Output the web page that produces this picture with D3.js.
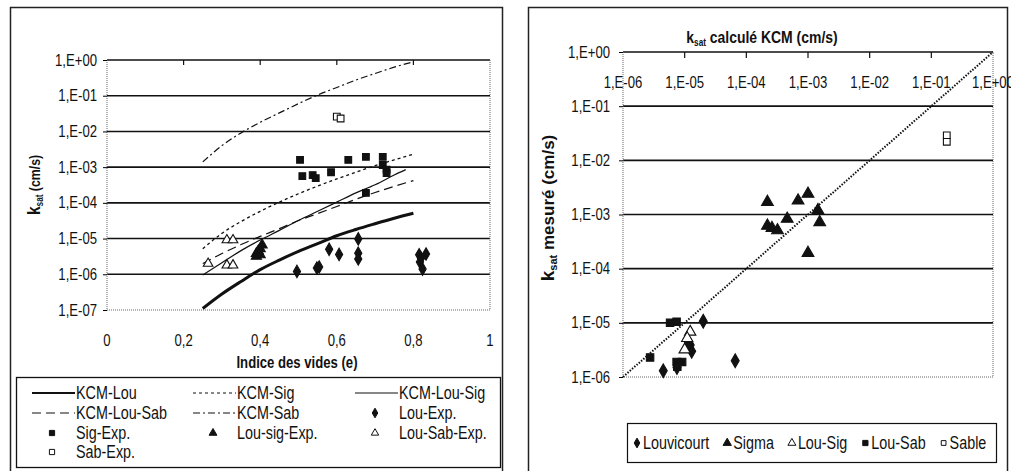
<!DOCTYPE html>
<html>
<head>
<meta charset="utf-8">
<script src="https://cdn.jsdelivr.net/npm/d3@7"></script>
<style>
body{margin:0;background:#fff;}
svg{display:block;font-family:"Liberation Sans",Arial,sans-serif;}
</style>
</head>
<body>
<div id="chart-area"></div>
<script>
// ---- data ----
// left chart : void ratio e vs ksat (cm/s)
var eGrid = [0.25,0.3,0.35,0.4,0.45,0.5,0.55,0.6,0.65,0.7,0.75,0.8];
var eLouSig = [0.25,0.3,0.35,0.4,0.45,0.5,0.55,0.6,0.65,0.7,0.75,0.78];
var kcmLou = [1.1e-7,2.8e-7,6.3e-7,1.35e-6,2.5e-6,4.4e-6,7.2e-6,1.2e-5,1.8e-5,2.6e-5,3.7e-5,5.1e-5];
var kcmSig = [5.2e-6,1.4e-5,3.0e-5,5.8e-5,1.05e-4,1.8e-4,2.95e-4,4.7e-4,7.2e-4,1.1e-3,1.6e-3,2.3e-3];
var kcmLouSig = [9.5e-7,2.1e-6,4.6e-6,9.1e-6,1.7e-5,3.2e-5,5.8e-5,1.05e-4,1.9e-4,3.2e-4,6.0e-4,8.5e-4];
var kcmLouSab = [2.0e-6,3.8e-6,6.8e-6,1.15e-5,1.9e-5,3.2e-5,5.0e-5,7.9e-5,1.26e-4,1.95e-4,2.9e-4,4.2e-4];
var kcmSab = [1.4e-3,4.0e-3,9.1e-3,1.8e-2,3.3e-2,6.0e-2,1.05e-1,1.7e-1,2.75e-1,4.2e-1,6.3e-1,8.9e-1];

var louExpE = [0.496,0.548,0.554,0.58,0.606,0.656,0.656,0.656,0.815,0.833,0.817,0.824,0.82];
var louExpK = [1.2e-6,1.5e-6,1.6e-6,5.0e-6,3.6e-6,9.8e-6,3.9e-6,2.7e-6,3.5e-6,3.7e-6,2.2e-6,1.4e-6,2.8e-6];
var sigExpE = [0.504,0.51,0.537,0.545,0.585,0.63,0.676,0.72,0.72,0.73,0.73,0.676];
var sigExpK = [1.6e-3,5.6e-4,6.0e-4,4.9e-4,7.2e-4,1.6e-3,1.95e-3,1.95e-3,1.15e-3,8.5e-4,6.8e-4,1.9e-4];
var louSigExpE = [0.39,0.39,0.395,0.40,0.40,0.405];
var louSigExpK = [3.2e-6,3.8e-6,4.5e-6,5.2e-6,3.5e-6,6.6e-6];
var louSabExpE = [0.264,0.313,0.329,0.313,0.329];
var louSabExpK = [2.0e-6,9.1e-6,9.1e-6,1.8e-6,1.8e-6];
var sabExpE = [0.60,0.61];
var sabExpK = [2.6e-2,2.3e-2];

var leftYTicks = [1e0,1e-1,1e-2,1e-3,1e-4,1e-5,1e-6,1e-7];
var leftYLabels = ['1,E+00','1,E-01','1,E-02','1,E-03','1,E-04','1,E-05','1,E-06','1,E-07'];
var leftXTicks = [0,0.2,0.4,0.6,0.8,1];
var leftXLabels = ['0','0,2','0,4','0,6','0,8','1'];

// right chart : calculated vs measured ksat
var louvCalc = [4.5e-6,2.0e-5,6.6e-5,7.5e-6,1.1e-5,1.23e-5,1.3e-5];
var louvMes  = [1.3e-6,1.07e-5,2.0e-6,1.5e-6,4.8e-6,3.9e-6,3.0e-6];
var sigmaCalc = [2.2e-4,2.2e-4,2.6e-4,3.2e-4,4.6e-4,6.9e-4,1.0e-3,1.0e-3,1.45e-3,1.55e-3];
var sigmaMes  = [1.7e-3,6.2e-4,5.6e-4,5.1e-4,8.3e-4,1.8e-3,2.4e-3,1.95e-4,1.2e-3,7.2e-4];
var louSigCalc = [1.23e-5,1.1e-5,1.0e-5];
var louSigMes  = [6.8e-6,5.2e-6,3.2e-6];
var louSabCalc = [2.75e-6,5.8e-6,7.4e-6,7.4e-6,9.1e-6,7.6e-6];
var louSabMes  = [2.3e-6,1.0e-5,1.05e-5,1.9e-6,1.9e-6,1.55e-6];
var sableCalc = [0.178,0.178];
var sableMes  = [2.9e-2,2.2e-2];

var rightTicks = [1e0,1e-1,1e-2,1e-3,1e-4,1e-5,1e-6];
var rightLabels = ['1,E+00','1,E-01','1,E-02','1,E-03','1,E-04','1,E-05','1,E-06'];

// ---- svg ----
var svgWidth = 1011, svgHeight = 471;
var svg = d3.select('#chart-area').append('svg')
  .attr('width',svgWidth).attr('height',svgHeight);

// squeeze a text (or tspan) horizontally so it looks like Arial Narrow
function narrow(node){
  var w = node.getComputedTextLength();
  d3.select(node).attr('textLength',w*0.82).attr('lengthAdjust','spacingAndGlyphs');
  return w*0.82;
}

// outer frames
svg.append('rect').attr('x',10.5).attr('y',7.5).attr('width',492).attr('height',470)
  .attr('fill','none').attr('stroke','#222').attr('stroke-width',1.5);
svg.append('rect').attr('x',528.5).attr('y',7.5).attr('width',479).attr('height',470)
  .attr('fill','none').attr('stroke','#222').attr('stroke-width',1.5);

function sym(type,size){ return d3.symbol().type(type).size(size)(); }

// =============== LEFT ===============
var xL = d3.scaleLinear().domain([0,1]).range([107,490]);
var yL = d3.scaleLog().domain([1e-7,1]).range([310,60]);

var gl = svg.append('g');

// gridlines
gl.selectAll('.grid').data(leftYTicks.slice(0,7)).enter().append('line')
  .attr('x1',xL(0)).attr('x2',xL(1))
  .attr('y1',d=>yL(d)).attr('y2',d=>yL(d))
  .attr('stroke','#111').attr('stroke-width',1.6);
// plot borders (dotted)
gl.append('path')
  .attr('d','M'+xL(0)+','+yL(1)+'V'+yL(1e-7)+'H'+xL(1)+'V'+yL(1))
  .attr('fill','none').attr('stroke','#666').attr('stroke-width',1).attr('stroke-dasharray','1,1');

// y axis
var yAxisL = d3.axisLeft(yL).tickValues(leftYTicks)
  .tickFormat((d,i)=>leftYLabels[i]).tickSize(4).tickPadding(6);
gl.append('g').attr('class','ax').attr('transform','translate('+xL(0)+',0)').call(yAxisL)
  .call(g=>g.select('.domain').remove())
  .selectAll('text').attr('font-size',16).attr('font-family','Liberation Sans, Arial, sans-serif').attr('fill','#111');

// top ticks
gl.selectAll('.xt').data(leftXTicks.slice(1,5)).enter().append('line')
  .attr('x1',d=>xL(d)).attr('x2',d=>xL(d)).attr('y1',yL(1)).attr('y2',yL(1)+5)
  .attr('stroke','#111').attr('stroke-width',1.2);
// x labels
gl.selectAll('.xl').data(leftXTicks).enter().append('text').attr('class','nt')
  .attr('x',d=>xL(d)).attr('y',346).attr('text-anchor','middle')
  .attr('font-size',16).attr('fill','#111').text((d,i)=>leftXLabels[i]);

// axis titles
gl.append('text').attr('class','nt').attr('x',297).attr('y',368).attr('text-anchor','middle')
  .attr('font-size',16).attr('font-weight','bold').attr('fill','#111')
  .text('Indice des vides (e)');
var ytl = gl.append('text').attr('class','sq').attr('transform','translate(40,185) rotate(-90)')
  .attr('text-anchor','middle').attr('font-weight','bold').attr('fill','#111');
ytl.append('tspan').attr('font-size',19).text('k');
ytl.append('tspan').attr('font-size',10).attr('dy',3).text('sat');
ytl.append('tspan').attr('font-size',15).attr('dy',-3).text(' (cm/s)');

// curves
var curves = [
  {name:'KCM-Lou', e:eGrid, k:kcmLou, w:3, dash:null},
  {name:'KCM-Sig', e:eGrid, k:kcmSig, w:1.3, dash:'3,3'},
  {name:'KCM-Lou-Sig', e:eLouSig, k:kcmLouSig, w:1.2, dash:null},
  {name:'KCM-Lou-Sab', e:eGrid, k:kcmLouSab, w:1.2, dash:'9,5'},
  {name:'KCM-Sab', e:eGrid, k:kcmSab, w:1.2, dash:'7,3,2,3'}
];
var lineGen = d3.line().curve(d3.curveMonotoneX).x(d=>xL(d[0])).y(d=>yL(d[1]));
curves.forEach(c=>{
  gl.append('path').datum(c.e.map((e,i)=>[e,c.k[i]]))
    .attr('d',lineGen).attr('fill','none').attr('stroke','#111')
    .attr('stroke-width',c.w).attr('stroke-dasharray',c.dash);
});

// scatter
var scatL = [
  {e:louExpE, k:louExpK, t:d3.symbolDiamond, s:45, fill:'#111'},
  {e:sigExpE, k:sigExpK, t:d3.symbolSquare, s:45, fill:'#111'},
  {e:louSigExpE, k:louSigExpK, t:d3.symbolTriangle, s:45, fill:'#111'},
  {e:louSabExpE, k:louSabExpK, t:d3.symbolTriangle, s:40, fill:'#fff'},
  {e:sabExpE, k:sabExpK, t:d3.symbolSquare, s:45, fill:'#fff'}
];
scatL.forEach(sr=>{
  gl.selectAll(null).data(sr.e.map((e,i)=>[e,sr.k[i]])).enter().append('path')
    .attr('d',sym(sr.t,sr.s))
    .attr('transform',d=>'translate('+xL(d[0])+','+yL(d[1])+')')
    .attr('fill',sr.fill).attr('stroke','#111').attr('stroke-width',1.1);
});

// left legend
gl.append('rect').attr('x',16.5).attr('y',377.5).attr('width',484).attr('height',90)
  .attr('fill','#fff').attr('stroke','#111').attr('stroke-width',1.3);
var legL = [
  {n:'KCM-Lou', line:curves[0]}, {n:'KCM-Sig', line:curves[1]}, {n:'KCM-Lou-Sig', line:curves[2]},
  {n:'KCM-Lou-Sab', line:curves[3]}, {n:'KCM-Sab', line:curves[4]}, {n:'Lou-Exp.', sc:scatL[0]},
  {n:'Sig-Exp.', sc:scatL[1]}, {n:'Lou-sig-Exp.', sc:scatL[2]}, {n:'Lou-Sab-Exp.', sc:scatL[3]},
  {n:'Sab-Exp.', sc:scatL[4]}
];
var colX = [32,193,355], rowY = [393,413,433,452];
legL.forEach((d,i)=>{
  var cx = colX[i%3], cy = rowY[Math.floor(i/3)];
  if(d.line){
    gl.append('line').attr('x1',cx).attr('x2',cx+43).attr('y1',cy).attr('y2',cy)
      .attr('stroke','#111').attr('stroke-width',d.line.w===3?2:1.2)
      .attr('stroke-dasharray',d.line.dash);
  } else {
    gl.append('path').attr('d',sym(d.sc.t,d.sc.s*0.6))
      .attr('transform','translate('+(cx+20)+','+cy+')')
      .attr('fill',d.sc.fill).attr('stroke','#111').attr('stroke-width',1);
  }
  gl.append('text').attr('class','nt').attr('x',cx+44).attr('y',cy+6).attr('font-size',17.5)
    .attr('fill','#111').text(d.n);
});

// =============== RIGHT ===============
var xR = d3.scaleLog().domain([1e-6,1]).range([623,993]);
var yR = d3.scaleLog().domain([1e-6,1]).range([377,52]);
var gr = svg.append('g');

gr.selectAll(null).data(rightTicks.slice(0,6)).enter().append('line')
  .attr('x1',xR(1e-6)).attr('x2',xR(1))
  .attr('y1',d=>yR(d)).attr('y2',d=>yR(d))
  .attr('stroke','#111').attr('stroke-width',1.6);
gr.append('path')
  .attr('d','M'+xR(1e-6)+','+yR(1)+'V'+yR(1e-6)+'H'+xR(1)+'V'+yR(1))
  .attr('fill','none').attr('stroke','#666').attr('stroke-width',1).attr('stroke-dasharray','1,1');

var yAxisR = d3.axisLeft(yR).tickValues(rightTicks)
  .tickFormat((d,i)=>rightLabels[i]).tickSize(4).tickPadding(9);
gr.append('g').attr('class','ax').attr('transform','translate('+xR(1e-6)+',0)').call(yAxisR)
  .call(g=>g.select('.domain').remove())
  .selectAll('text').attr('font-size',16).attr('font-family','Liberation Sans, Arial, sans-serif').attr('fill','#111');

// top x axis ticks + labels
gr.selectAll(null).data(rightTicks.slice(1,6)).enter().append('line')
  .attr('x1',d=>xR(d)).attr('x2',d=>xR(d)).attr('y1',yR(1)).attr('y2',yR(1)+6)
  .attr('stroke','#111').attr('stroke-width',1.2);
gr.selectAll(null).data(rightTicks).enter().append('text').attr('class','nt')
  .attr('x',d=>xR(d)).attr('y',88).attr('text-anchor','middle')
  .attr('font-size',16).attr('fill','#111').text((d,i)=>rightLabels[i]);

// titles
var tt = gr.append('text').attr('class','sq').attr('x',762).attr('y',43).attr('text-anchor','middle')
  .attr('font-weight','bold').attr('fill','#111');
tt.append('tspan').attr('font-size',17).text('k');
tt.append('tspan').attr('font-size',10).attr('dy',3).text('sat');
tt.append('tspan').attr('font-size',17).attr('dy',-3).text(' calculé KCM (cm/s)');

// measured axis title: wider in the picture, so not squeezed
var ytr = gr.append('text').attr('transform','translate(554,208) rotate(-90)')
  .attr('text-anchor','middle').attr('font-weight','bold').attr('fill','#111');
ytr.append('tspan').attr('font-size',19).text('k');
ytr.append('tspan').attr('font-size',11).attr('dy',3).text('sat');
ytr.append('tspan').attr('font-size',17).attr('dy',-3).text('   mesuré (cm/s)');

// 1:1 line
gr.append('line').attr('x1',xR(1e-6)).attr('y1',yR(1e-6)).attr('x2',xR(1)).attr('y2',yR(1))
  .attr('stroke','#111').attr('stroke-width',2).attr('stroke-dasharray','1.5,1.5');

var scatR = [
  {n:'Louvicourt', x:louvCalc, y:louvMes, t:d3.symbolDiamond, s:55, fill:'#111'},
  {n:'Sigma', x:sigmaCalc, y:sigmaMes, t:d3.symbolTriangle, s:60, fill:'#111'},
  {n:'Lou-Sig', x:louSigCalc, y:louSigMes, t:d3.symbolTriangle, s:55, fill:'#fff'},
  {n:'Lou-Sab', x:louSabCalc, y:louSabMes, t:d3.symbolSquare, s:55, fill:'#111'},
  {n:'Sable', x:sableCalc, y:sableMes, t:d3.symbolSquare, s:45, fill:'#fff'}
];
scatR.forEach(sr=>{
  gr.selectAll(null).data(sr.x.map((x,i)=>[x,sr.y[i]])).enter().append('path')
    .attr('d',sym(sr.t,sr.s))
    .attr('transform',d=>'translate('+xR(d[0])+','+yR(d[1])+')')
    .attr('fill',sr.fill).attr('stroke','#111').attr('stroke-width',1.1);
});

// narrow all single-run texts and the tspans of the squeezed titles
svg.selectAll('text.nt, g.ax text').each(function(){ narrow(this); });
svg.selectAll('text.sq tspan').each(function(){ narrow(this); });

// right legend (laid out after narrowing so widths are known)
gr.append('rect').attr('x',627.5).attr('y',423.5).attr('width',369).attr('height',39)
  .attr('fill','#fff').attr('stroke','#111').attr('stroke-width',1.2);
var lx = 633;
scatR.forEach((sr,i)=>{
  gr.append('path').attr('d',sym(sr.t,sr.s*0.5))
    .attr('transform','translate('+(lx+4)+',443)')
    .attr('fill',sr.fill).attr('stroke','#111').attr('stroke-width',1);
  var t = gr.append('text').attr('x',lx+10).attr('y',449).attr('font-size',17.5)
    .attr('fill','#111').text(sr.n);
  lx += 10 + narrow(t.node()) + 14;
});
</script>
</body>
</html>
